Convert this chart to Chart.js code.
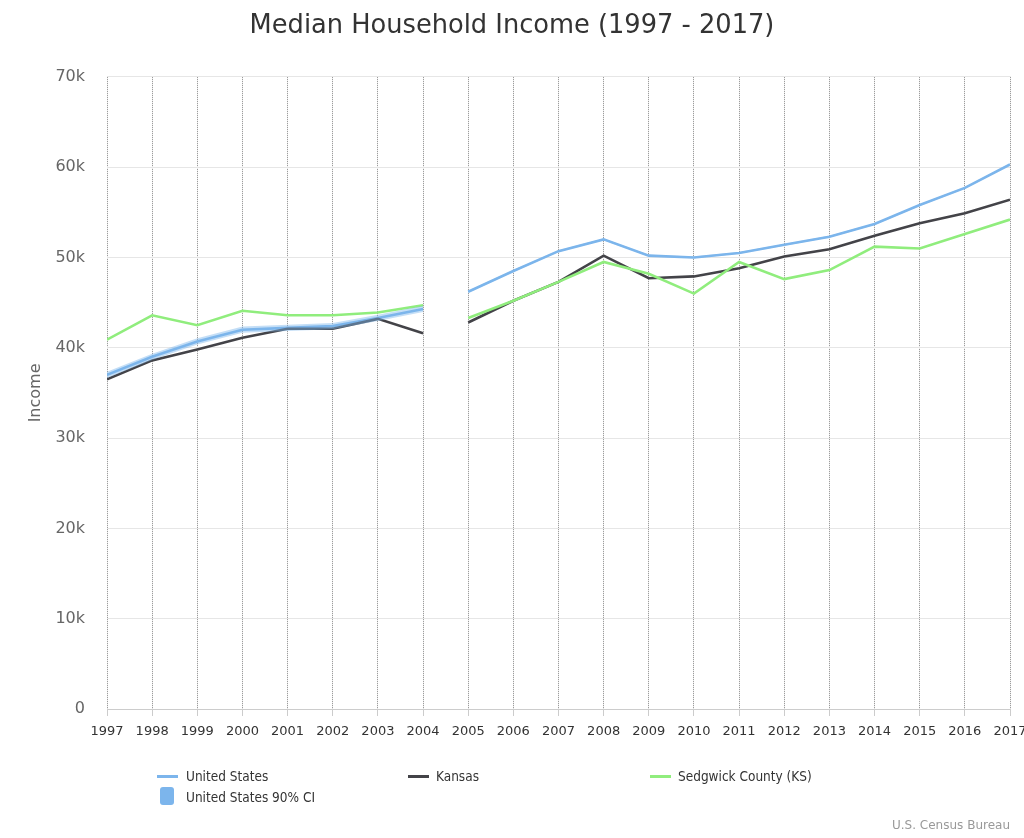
<!DOCTYPE html>
<html>
<head>
<meta charset="utf-8">
<script src="https://cdn.jsdelivr.net/npm/chart.js@4/dist/chart.umd.min.js"></script>
<style>
  html, body { margin: 0; padding: 0; background: #fff; }
  #wrap { position: relative; width: 1024px; height: 838px; }
  canvas { position: absolute; left: 0; top: 0; }
  .lg { position: absolute; font-family: 'DejaVu Sans Condensed', 'Liberation Sans Narrow', sans-serif; font-size: 13.5px; color: #333; white-space: nowrap; line-height: 16px; }
  .sw { position: absolute; height: 3px; width: 21px; }
  .box { position: absolute; width: 14px; height: 18px; border-radius: 3px; }
  #credit { position: absolute; right: 14px; top: 818px; font-family: 'DejaVu Sans', sans-serif; font-size: 12px; color: #999; }
</style>
</head>
<body>
<div id="wrap">
  <canvas id="c" width="1024" height="838"></canvas>
  <div class="sw" style="left:157px;top:775px;background:#7cb5ec"></div>
  <div class="lg" style="left:186px;top:768px">United States</div>
  <div class="sw" style="left:408px;top:775px;background:#434348"></div>
  <div class="lg" style="left:436px;top:768px">Kansas</div>
  <div class="sw" style="left:650px;top:775px;background:#90ed7d"></div>
  <div class="lg" style="left:678px;top:768px">Sedgwick County (KS)</div>
  <div class="box" style="left:160px;top:787px;background:#7cb5ec"></div>
  <div class="lg" style="left:186px;top:789px">United States 90% CI</div>
  <div id="credit">U.S. Census Bureau</div>
</div>
<script>
const years = [1997,1998,1999,2000,2001,2002,2003,2004,2005,2006,2007,2008,2009,2010,2011,2012,2013,2014,2015,2016,2017];
const unitedStates = [37000,39000,40700,42000,42200,42400,43300,44300,46200,48500,50700,52000,50200,50000,50500,51400,52300,53700,55800,57700,60300];
const usCiLower   = [36650,38650,40350,41650,41850,42050,42950,43950,46100,48400,50600,51900,50100,49900,50400,51300,52200,53600,55700,57600,60200];
const usCiUpper   = [37350,39350,41050,42350,42550,42750,43650,44650,46300,48600,50800,52100,50300,50100,50600,51500,52400,53800,55900,57800,60400];
const kansas      = [36500,38600,39800,41100,42100,42100,43200,41600,42800,45200,47300,50200,47700,47900,48800,50100,50900,52400,53800,54900,56400];
const sedgwick    = [40900,43600,42500,44100,43600,43600,43900,44700,43300,45200,47300,49500,48200,46000,49500,47600,48600,51200,51000,52600,54200];
const yTicks = [0,10000,20000,30000,40000,50000,60000,70000];
const breakAfterIndex = 7; // survey change 2004 -> 2005 (no connecting segment)

const gapColor = c => ctx => ctx.p0DataIndex === breakAfterIndex ? 'rgba(0,0,0,0)' : c;
const toPts = arr => arr.map((v, i) => ({ x: years[i], y: v }));

const lineDs = (label, arr, color) => ({
  label, data: toPts(arr), borderColor: color, backgroundColor: color,
  borderWidth: 2.6, pointRadius: 0, fill: false, tension: 0,
  segment: { borderColor: gapColor(color) }
});

new Chart(document.getElementById('c'), {
  type: 'line',
  data: {
    datasets: [
      { label: 'ciLow', data: toPts(usCiLower), borderWidth: 0, pointRadius: 0, fill: false, borderColor: 'rgba(0,0,0,0)' },
      { label: 'United States 90% CI', data: toPts(usCiUpper), borderWidth: 0, pointRadius: 0, borderColor: 'rgba(0,0,0,0)',
        fill: '-1', backgroundColor: 'rgba(124,181,236,0.45)',
        segment: { backgroundColor: gapColor('rgba(124,181,236,0.45)') } },
      lineDs('Sedgwick County (KS)', sedgwick, '#90ed7d'),
      lineDs('Kansas', kansas, '#434348'),
      lineDs('United States', unitedStates, '#7cb5ec'),
    ]
  },
  options: {
    responsive: false,
    animation: false,
    layout: { padding: { left: 0, right: 0, top: 0, bottom: 89 } },
    plugins: {
      legend: { display: false },
      tooltip: { enabled: false },
      title: {
        display: true,
        text: 'Median Household Income (1997 - 2017)',
        color: '#333',
        font: { family: 'DejaVu Sans', size: 25.7, weight: 'normal' },
        padding: { top: 11, bottom: 35 }
      }
    },
    scales: {
      x: {
        type: 'linear',
        min: years[0], max: years[years.length - 1],
        afterBuildTicks: axis => { axis.ticks = years.map(v => ({ value: v })); },
        afterFit: axis => { axis.height = 40; axis.paddingRight = 14; axis.paddingLeft = 0; },
        ticks: {
          color: '#333', font: { family: 'DejaVu Sans', size: 13 }, padding: 8,
          maxRotation: 0, autoSkip: false, callback: v => String(v)
        },
        grid: {
          color: '#8a8a8a', lineWidth: 1,
          tickLength: 7, tickColor: '#ccc', tickBorderDash: [], drawTicks: true
        },
        border: { display: true, color: '#ccc', width: 1, dash: [1, 1] }
      },
      y: {
        min: 0, max: 70000,
        afterBuildTicks: axis => { axis.ticks = yTicks.map(v => ({ value: v })); },
        afterFit: axis => { axis.width = 107; },
        ticks: {
          color: '#666', font: { family: 'DejaVu Sans', size: 16 }, padding: 22,
          callback: v => v === 0 ? '0' : (v / 1000) + 'k'
        },
        grid: { color: '#e6e6e6', lineWidth: 1, drawTicks: false },
        border: { display: false },
        title: {
          display: true, text: 'Income', color: '#666',
          font: { family: 'DejaVu Sans', size: 16 }, padding: { top: 26, bottom: 0 }
        }
      }
    }
  }
});
</script>
</body>
</html>
